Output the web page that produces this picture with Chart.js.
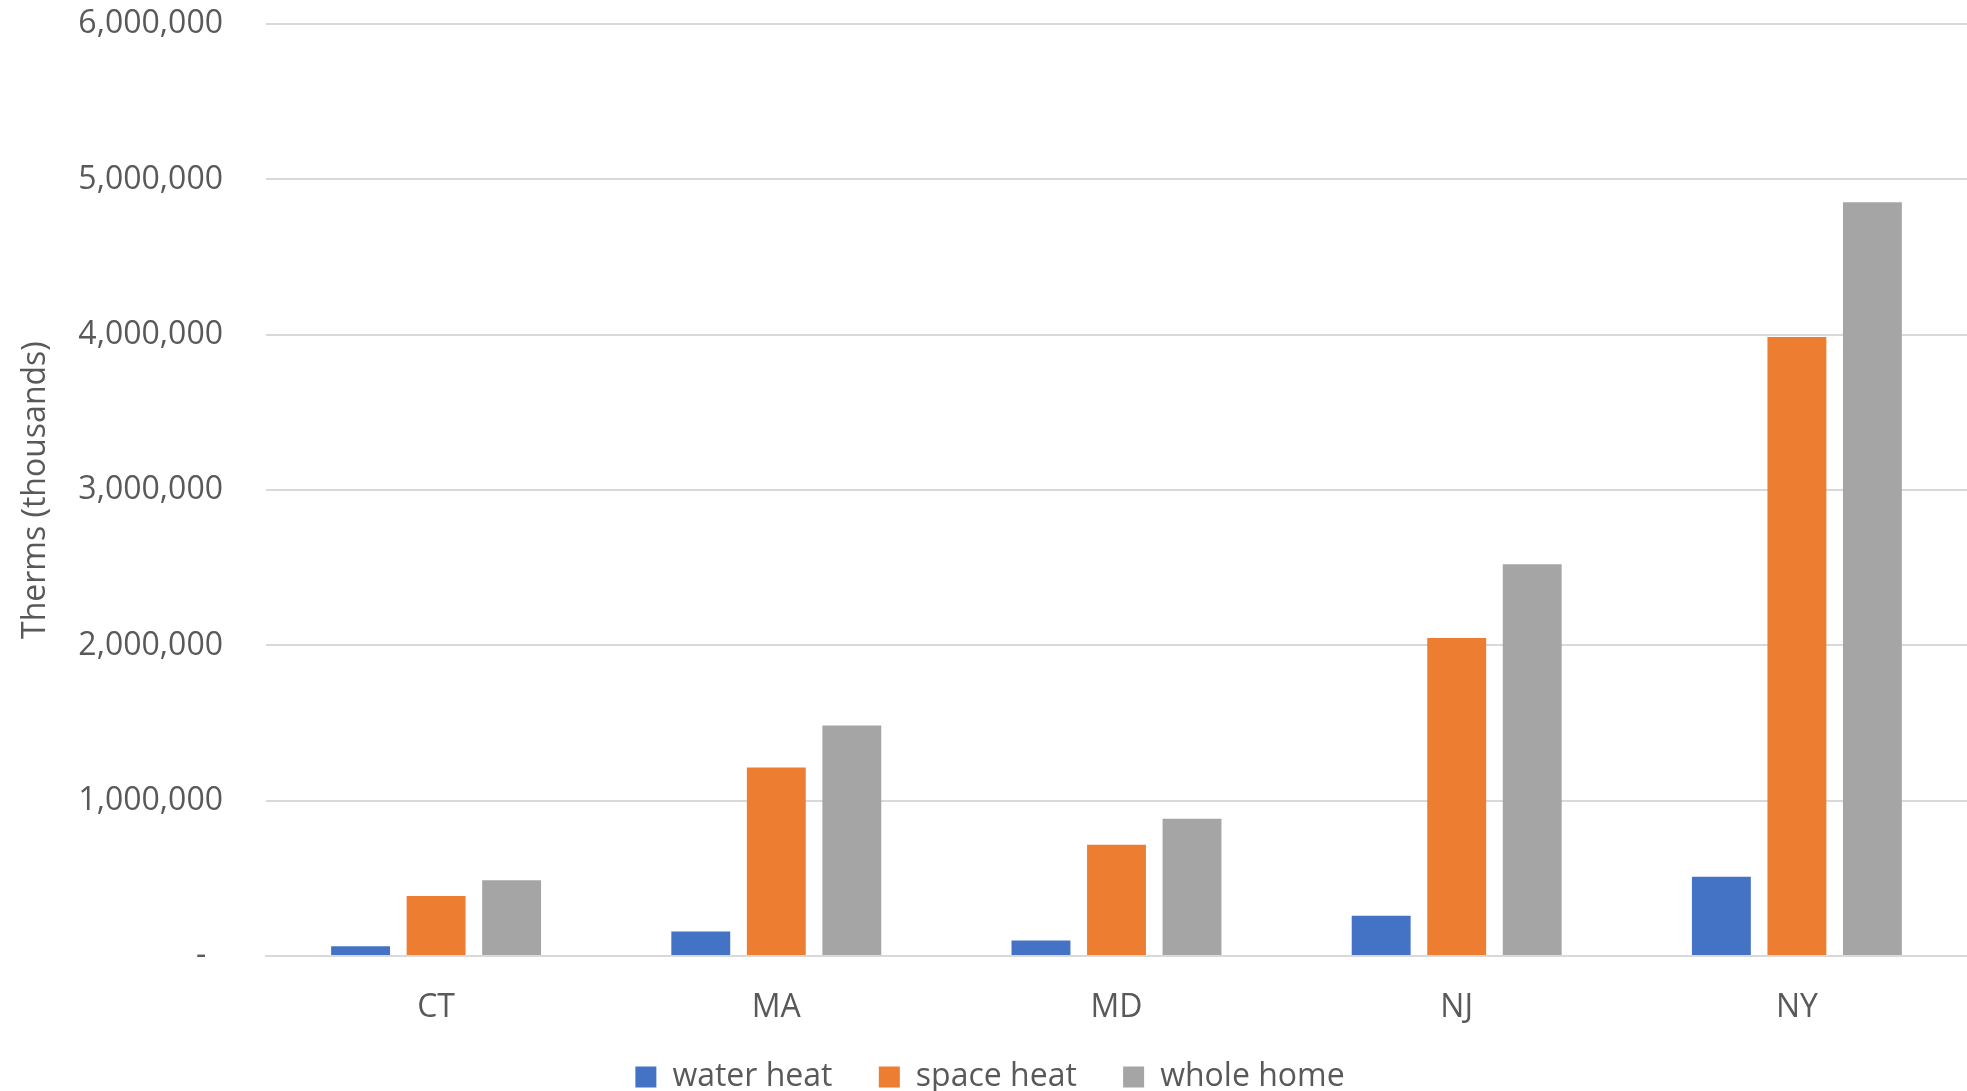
<!DOCTYPE html>
<html>
<head>
<meta charset="utf-8">
<script src="https://cdn.jsdelivr.net/npm/chart.js@4"></script>
<style>
  html, body { margin: 0; padding: 0; background: #fff; }
  #wrap { width: 1967px; height: 1091px; }
</style>
</head>
<body>
<div id="wrap"><canvas id="chart"></canvas></div>
<script>
const states = ['CT', 'MA', 'MD', 'NJ', 'NY'];
const waterHeat = [62000, 157000, 100000, 259000, 511000];
const spaceHeat = [386000, 1213000, 716000, 2048000, 3986000];
const wholeHome = [488000, 1484000, 884000, 2523000, 4854000];
const yTickLabels = ['-\u00a0\u00a0', '1,000,000', '2,000,000', '3,000,000', '4,000,000', '5,000,000', '6,000,000'];

const textColor = '#595959';
const font = 'Open Sans';

// Excel puts the legend row closer to the bottom edge
const legendShift = {
    id: 'legendShift',
    afterLayout(chart) {
        chart.legend.top += 12;
        chart.legend.bottom += 12;
    }
};

const ctx = document.getElementById('chart').getContext('2d');
new Chart(ctx, {
    type: 'bar',
    data: {
        labels: states,
        datasets: [{
            label: 'water heat',
            data: waterHeat,
            backgroundColor: '#4472C4'
        },
        {
            label: 'space heat',
            data: spaceHeat,
            backgroundColor: '#ED7D31'
        },
        {
            label: 'whole home',
            data: wholeHome,
            backgroundColor: '#A5A5A5'
        }]
    },
    options: {
        responsive: true,
        maintainAspectRatio: false,
        animation: false,
        categoryPercentage: 0.666,
        barPercentage: 0.78,
        layout: { padding: { left: 13, top: 0, right: 0, bottom: 0 } },
        plugins: {
            tooltip: { enabled: false },
            legend: {
                position: 'bottom',
                labels: {
                    color: textColor,
                    font: { family: font, size: 32 },
                    boxWidth: 21,
                    boxHeight: 21,
                    padding: 25,
                    // wider gap between entries without making the legend taller
                    generateLabels: (chart) => {
                        const items = Chart.defaults.plugins.legend.labels.generateLabels(chart);
                        items.forEach((item, i) => {
                            if (i < items.length - 1) item.text += '\u2002\u2009';
                        });
                        return items;
                    }
                }
            }
        },
        scales: {
            x: {
                grid: { display: false, drawTicks: false },
                border: { color: '#D9D9D9', width: 2 },
                ticks: { color: textColor, font: { family: font, size: 32 }, padding: 33 },
                afterFit: (scale) => { scale.height = 68; }
            },
            y: {
                min: 0,
                max: 6000000,
                border: { display: false },
                grid: { color: '#D9D9D9', lineWidth: 2, drawTicks: true, tickLength: 38, tickColor: 'rgba(0,0,0,0)' },
                ticks: {
                    stepSize: 1000000,
                    color: textColor,
                    font: { family: font, size: 32 },
                    padding: 5,
                    callback: (value, index) => yTickLabels[index]
                },
                title: {
                    display: true,
                    text: 'Therms (thousands)',
                    color: textColor,
                    font: { family: font, size: 32 },
                    padding: { top: 4, bottom: 4 }
                },
                afterFit: (scale) => { scale.width = 253; }
            }
        }
    },
    plugins: [legendShift]
});
</script>
</body>
</html>
